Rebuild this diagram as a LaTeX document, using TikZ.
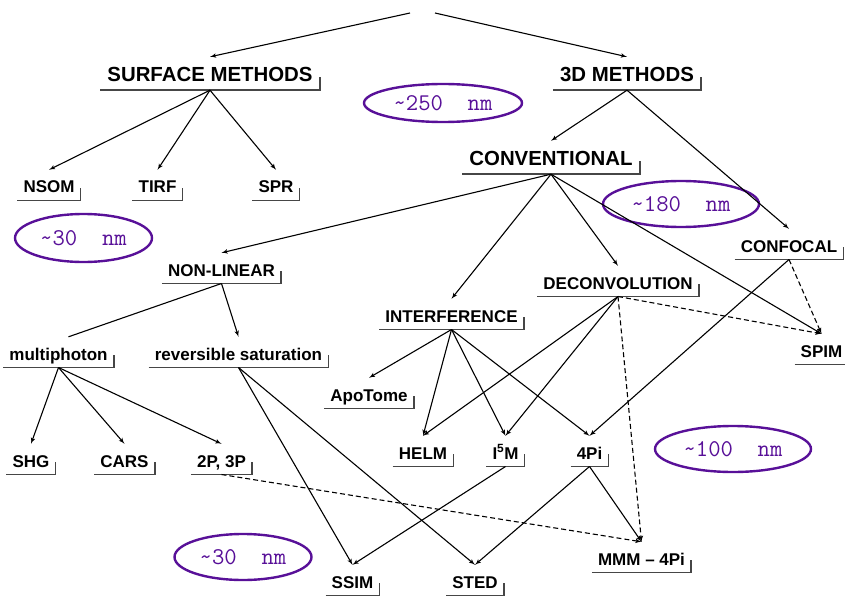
\documentclass[tikz,border=0pt]{standalone}
\usepackage{fontspec}
\setmainfont{Liberation Sans}
\usetikzlibrary{shapes,arrows}
\definecolor{respurple}{RGB}{88,16,152}
\definecolor{bargray}{RGB}{70,70,70}
\newcommand{\labbig}{\fontsize{20.4}{24}\selectfont\bfseries}
\newcommand{\labsmall}{\fontsize{17}{20}\selectfont\bfseries}
\newcommand{\nmfont}{\fontsize{24}{28}\selectfont\ttfamily}
\tikzstyle{bigbox} = [anchor=base, font=\labbig, inner xsep=7pt, inner ysep=3pt, text height=22pt, text depth=5pt]
\tikzstyle{smallbox} = [anchor=base, font=\labsmall, inner xsep=6pt, inner ysep=3pt, text height=20pt, text depth=4.3pt]
\tikzstyle{res} = [ellipse, draw=respurple, line width=2.4pt, text=respurple, font=\nmfont, inner sep=0pt]
\tikzstyle{bar} = [draw=bargray, line width=1.5pt]
\tikzstyle{link} = [draw, line width=1.1pt]
\tikzstyle{maybe} = [draw, line width=1.1pt, dash pattern=on 5pt off 3pt]

\begin{document}
\begin{tikzpicture}[x=1pt, y=-1pt, >=latex']
\useasboundingbox (0,0) rectangle (845,596);
\coordinate (topL) at (410,13);
\coordinate (topR) at (435,13);

% top level
\node [bigbox] (surf) at (210,82) {SURFACE METHODS};
\node [bigbox] (threeD) at (627,82) {3D METHODS};
\node [bigbox] (conv) at (551,166) {CONVENTIONAL};

\node [smallbox] (nsom) at (49,193) {NSOM};
\node [smallbox] (tirf) at (157.5,193) {TIRF};
\node [smallbox] (spr) at (276,193) {SPR};

\node [smallbox] (confocal) at (789,252) {CONFOCAL};
\node [smallbox] (nonlin) at (221.5,276) {NON-LINEAR};
\node [smallbox] (deconv) at (618,289) {DECONVOLUTION};
\node [smallbox] (interf) at (451.5,322) {INTERFERENCE};
\node [smallbox] (spim) at (821.5,357) {SPIM};

\node [smallbox] (multi) at (58.5,360) {multiphoton};
\node [smallbox] (revsat) at (238.5,360) {reversible saturation};
\node [smallbox] (apotome) at (369,401) {ApoTome};

\node [smallbox] (helm) at (423,459) {HELM};
\node [smallbox] (i5m) at (505.5,459) {I\textsuperscript{5}M};
\node [smallbox] (fourpi) at (589.5,459) {4Pi};
\node [smallbox] (shg) at (31,467) {SHG};
\node [smallbox] (cars) at (124.5,467) {CARS};
\node [smallbox] (p23) at (221.5,467) {2P, 3P};

\node [smallbox] (mmm) at (641.5,565) {MMM -- 4Pi};
\node [smallbox] (ssim) at (352.5,588) {SSIM};
\node [smallbox] (sted) at (475,588) {STED};

% resolution ellipses
\node [res, minimum width=158pt, minimum height=38pt] (r250) at (443,103) {\textasciitilde250\ \ nm};
\node [res, minimum width=137pt, minimum height=48pt] (r30a) at (83.5,238) {\textasciitilde30\ \ nm};
\node [res, minimum width=156pt, minimum height=46pt] (r180) at (681,204) {\textasciitilde180\ \ nm};
\node [res, minimum width=156pt, minimum height=46pt] (r100) at (733,449) {\textasciitilde100\ \ nm};
\node [res, minimum width=137pt, minimum height=46pt] (r30b) at (243,557) {\textasciitilde30\ \ nm};

% label underlines
\foreach \n in {surf,threeD,conv,nsom,tirf,spr,confocal,nonlin,deconv,interf,spim,multi,revsat,apotome,helm,i5m,fourpi,shg,cars,p23,mmm,ssim,sted}
  \draw [bar] (\n.south west) -| ([yshift=13pt]\n.south east);

\draw [link,->] (topL) -- (surf.north);
\draw [link,->] (topR) -- (threeD.north);

\draw [link,->] (surf.south) -- (nsom.north);
\draw [link,->] (surf.south) -- (tirf.north);
\draw [link,->] (surf.south) -- (spr.north);

\draw [link,->] (threeD.south) -- (conv.north);
\draw [link,->] (threeD.south) -- (confocal.north);

\draw [link,->] (conv.south) -- (nonlin.north);
\draw [link,->] (conv.south) -- (interf.north);
\draw [link,->] (conv.south) -- (deconv.north);
\draw [link,->] (conv.south) -- (spim.north);

\draw [link] (nonlin.south) -- ([xshift=10pt]multi.north);
\draw [link,->] (nonlin.south) -- (revsat.north);

\draw [link,->] (multi.south) -- (shg.north);
\draw [link,->] (multi.south) -- (cars.north);
\draw [link,->] (multi.south) -- (p23.north);

\draw [link,->] (revsat.south) -- (ssim.north);
\draw [link,->] (revsat.south) -- (sted.north);

\draw [link,->] (interf.south) -- (apotome.north);
\draw [link,->] (interf.south) -- (helm.north);
\draw [link,->] (interf.south) -- (i5m.north);
\draw [link,->] (interf.south) -- (fourpi.north);

\draw [link,->] (deconv.south) -- (helm.north);
\draw [link,->] (deconv.south) -- (i5m.north);
\draw [maybe,->] (deconv.south) -- (mmm.north);
\draw [maybe,->] (deconv.south) -- (spim.north);

\draw [maybe,->] (confocal.south) -- (spim.north);
\draw [link,->] (confocal.south) -- (fourpi.north);

\draw [link,->] (i5m.south) -- (ssim.north);
\draw [link,->] (fourpi.south) -- (sted.north);
\draw [link,->] (fourpi.south) -- (mmm.north);
\draw [maybe,->] (p23.south) -- (mmm.north);

\end{tikzpicture}
\end{document}
